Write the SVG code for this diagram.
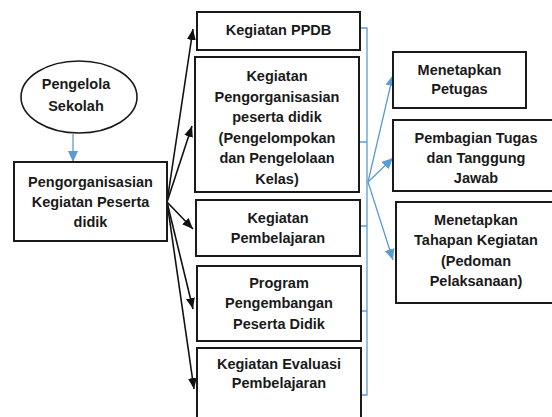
<svg xmlns="http://www.w3.org/2000/svg" width="552" height="417" viewBox="0 0 552 417">
<defs>
<style>
.box{fill:#fff;stroke:#1a1a1a;stroke-width:2}
.t{font-family:"Liberation Sans",Arial,sans-serif;font-weight:bold;font-size:14.5px;fill:#1a1a1a;text-anchor:middle}
.blk{stroke:#111;stroke-width:1.6;fill:none}
.blu{stroke:#5b9bd5;stroke-width:1.3;fill:none}
</style>
<marker id="ab" markerUnits="userSpaceOnUse" markerWidth="11" markerHeight="9" refX="11" refY="4.5" orient="auto"><path d="M0,0 L11,4.5 L0,9 z" fill="#111"/></marker>
<marker id="au" markerUnits="userSpaceOnUse" markerWidth="11" markerHeight="10" refX="11" refY="5" orient="auto"><path d="M0,0 L11,5 L0,10 z" fill="#5b9bd5"/></marker>
</defs>
<rect width="552" height="417" fill="#fff"/>
<g id="connectors">
<line class="blu" x1="73" y1="134" x2="73" y2="162" marker-end="url(#au)"/>
<line class="blk" x1="167" y1="202" x2="193" y2="29" marker-end="url(#ab)"/>
<line class="blk" x1="167" y1="202" x2="192" y2="126" marker-end="url(#ab)"/>
<line class="blk" x1="167" y1="202" x2="193" y2="229" marker-end="url(#ab)"/>
<line class="blk" x1="167" y1="202" x2="193" y2="309" marker-end="url(#ab)"/>
<line class="blk" x1="167" y1="202" x2="194" y2="389" marker-end="url(#ab)"/>
<path class="blu" d="M361,28 H367 V395 H361 M360,142 H367 M361,226 H367 M362,311 H367"/>
<line class="blu" x1="368" y1="182" x2="393" y2="75" marker-end="url(#au)"/>
<line class="blu" x1="368" y1="182" x2="393" y2="158" marker-end="url(#au)"/>
<line class="blu" x1="368" y1="182" x2="393" y2="260" marker-end="url(#au)"/>
</g>
<g id="pengelola">
<ellipse cx="79" cy="97" rx="58" ry="36" fill="#fff" stroke="#1a1a1a" stroke-width="1.6"/>
<text class="t" x="76" y="89">Pengelola</text>
<text class="t" x="76" y="111">Sekolah</text>
</g>
<g id="pengorganisasian">
<rect class="box" x="14" y="162" width="153" height="79"/>
<text class="t" x="90.5" y="187">Pengorganisasian</text>
<text class="t" x="90.5" y="207">Kegiatan Peserta</text>
<text class="t" x="90.5" y="227">didik</text>
</g>
<g id="ppdb">
<rect class="box" x="197" y="12" width="163" height="38"/>
<text class="t" x="278.5" y="35">Kegiatan PPDB</text>
</g>
<g id="organisasi">
<rect class="box" x="195" y="57" width="164" height="135"/>
<text class="t" x="277" y="81">Kegiatan</text>
<text class="t" x="277" y="102">Pengorganisasian</text>
<text class="t" x="277" y="122">peserta didik</text>
<text class="t" x="277" y="143">(Pengelompokan</text>
<text class="t" x="277" y="163">dan Pengelolaan</text>
<text class="t" x="277" y="184">Kelas)</text>
</g>
<g id="pembelajaran">
<rect class="box" x="196" y="200" width="164" height="56"/>
<text class="t" x="278" y="223">Kegiatan</text>
<text class="t" x="278" y="243">Pembelajaran</text>
</g>
<g id="program">
<rect class="box" x="197" y="266" width="164" height="75"/>
<text class="t" x="279" y="288">Program</text>
<text class="t" x="279" y="308">Pengembangan</text>
<text class="t" x="279" y="329">Peserta Didik</text>
</g>
<g id="evaluasi">
<rect class="box" x="197" y="348" width="164" height="80"/>
<text class="t" x="279" y="369">Kegiatan Evaluasi</text>
<text class="t" x="279" y="388">Pembelajaran</text>
</g>
<g id="petugas">
<rect class="box" x="393" y="52" width="133" height="56"/>
<text class="t" x="459.5" y="75">Menetapkan</text>
<text class="t" x="459.5" y="94">Petugas</text>
</g>
<g id="pembagian">
<rect class="box" x="393" y="120" width="170" height="71"/>
<text class="t" x="476" y="143">Pembagian Tugas</text>
<text class="t" x="476" y="163">dan Tanggung</text>
<text class="t" x="476" y="183">Jawab</text>
</g>
<g id="tahapan">
<rect class="box" x="396" y="202" width="170" height="101"/>
<text class="t" x="476" y="225">Menetapkan</text>
<text class="t" x="476" y="245">Tahapan Kegiatan</text>
<text class="t" x="476" y="266">(Pedoman</text>
<text class="t" x="476" y="286">Pelaksanaan)</text>
</g>
</svg>
